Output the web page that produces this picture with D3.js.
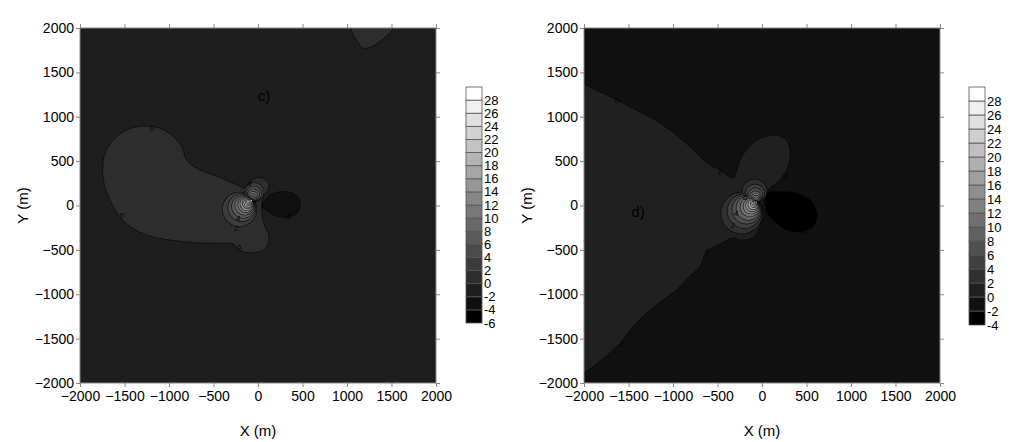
<!DOCTYPE html>
<meta charset="utf-8">
<html>
<head>
<script src="https://d3js.org/d3.v7.min.js"></script>
<style>
  body { margin: 0; background: #fff; }
  text { font-family: Arial, "Liberation Sans", sans-serif; fill: #000; }
</style>
</head>
<body>
<div id="chart"></div>
<script>
// tick values shared by both maps (metres)
const axisTicks = [-2000, -1500, -1000, -500, 0, 500, 1000, 1500, 2000];

// ---- panel c) ----
const cLevels = [-6, -4, -2, 0, 2, 4, 6, 8, 10, 12, 14, 16, 18, 20, 22, 24, 26, 28];
const cBackLevel = -2;
// 0..2 lobe west of the source
const cWestLobe = [[-127,194],[-315,268],[-502,344],[-689,419],[-801,513],[-857,663],[-952,775],
  [-1101,870],[-1289,896],[-1475,851],[-1626,738],[-1719,588],[-1745,437],[-1730,250],[-1663,62],
  [-1570,-107],[-1438,-239],[-1251,-332],[-989,-389],[-689,-419],[-427,-426],[-278,-434],[-239,-482],
  [-165,-521],[-53,-532],[60,-501],[116,-426],[116,-313],[79,-239],[53,-144],[42,-14],[53,99],
  [116,175],[116,250],[60,306],[-15,313],[-82,268],[-109,220]];
// 0..2 patch on the top edge
const cNorthPatch = [[1030,2150],[1042,2000],[1109,1857],[1183,1775],[1258,1783],[1408,1876],[1520,2000],[1540,2150]];
// -4..-2 lobe east of the source
const cEastLobe = [[79,62],[154,130],[266,155],[397,137],[472,43],[453,-70],[360,-126],[228,-126],[116,-70],[45,-6]];
// nested rings around the source (south-west lobe)
const cRingLevels = [2, 4, 6, 8, 10, 12, 14, 16, 18, 20, 22, 24, 26, 28];
const cRingX = [-207, -181, -163, -148, -134, -124, -113, -106, -98, -92, -87, -82, -78, -74];
const cRingY = [-43, -23, -10, 2, 12, 20, 28, 33, 39, 43, 48, 51, 54, 57];
const cRingR = [190, 154, 129, 108, 89, 75, 60, 50, 39, 31, 23, 17, 11, 6];
// nested rings, north lobe
const cUpLevels = [2, 4, 6, 8, 10, 12, 14, 16, 18, 20, 22];
const cUpX = [-42, -47, -52, -56, -59, -62, -64, -66, -67, -68, -69];
const cUpY = [150, 132, 116, 104, 94, 86, 79, 74, 69, 66, 63];
const cUpR = [105, 84, 66, 52, 40, 30, 22, 16, 11, 7, 4];
const cLabels = [[-1194,859,"0"],[-1531,-115,"0"],[-213,-482,"0"],[-98,242,"0"],[337,-126,"-2"],[-226,-150,"4"],[-245,-258,"2"]];

// ---- panel d) ----
const dLevels = [-4, -2, 0, 2, 4, 6, 8, 10, 12, 14, 16, 18, 20, 22, 24, 26, 28];
const dBackLevel = -2;
const dWestRegion = [[-2100,1358],[-1820,1279],[-1629,1189],[-1371,1053],[-1146,930],[-921,761],
  [-734,591],[-618,479],[-472,400],[-326,310],[-284,400],[-228,550],[-101,704],[53,783],[202,783],
  [296,704],[315,550],[278,400],[202,287],[90,194],[34,96],[0,-51],[-22,-242],[-112,-366],[-247,-389],
  [-326,-366],[-472,-434],[-621,-521],[-697,-690],[-809,-794],[-958,-952],[-1146,-1087],[-1337,-1253],
  [-1461,-1380],[-1596,-1549],[-1820,-1752],[-2100,-1899]];
const dEastLobe = [[67,141],[202,155],[390,137],[539,62],[615,-88],[573,-239],[427,-295],[278,-276],[146,-183],[53,-70]];
const dRingLevels = [2, 4, 6, 8, 10, 12, 14, 16, 18, 20, 22, 24, 26, 28];
const dRingX = [-227, -197, -174, -155, -136, -122, -110, -99, -88, -81, -75, -71, -66, -64];
const dRingY = [-85, -63, -46, -31, -17, -6, 3, 11, 19, 24, 29, 32, 35, 37];
const dRingR = [232, 190, 159, 132, 106, 86, 69, 54, 39, 29, 21, 15, 9, 5];
const dUpLevels = [2, 4, 6, 8, 10, 12, 14, 16, 18, 20, 22];
const dUpX = [-84, -79, -75, -72, -69, -67, -65, -64, -63, -62, -61];
const dUpY = [159, 132, 112, 96, 84, 73, 65, 58, 52, 48, 45];
const dUpR = [135, 105, 82, 64, 50, 38, 28, 20, 14, 9, 6];
const dLabels = [[-1626,1181,"0"],[-461,363,"0"],[255,324,"0"],[-621,-527,"0"],[-1565,-1572,"0"],
  [-293,-100,"4"],[-330,-225,"2"],[-191,88,"6"],[457,-299,"-2"]];

const W = 356, H = 355, plotTop = 28;

const svg = d3.select("#chart").append("svg")
  .attr("width", 1024).attr("height", 442);

function drawPanel(p) {
  const g = svg.append("g").attr("transform", `translate(${p.left},${plotTop})`);
  const x = d3.scaleLinear().domain([-2000, 2000]).range([0, W]);
  const y = d3.scaleLinear().domain([-2000, 2000]).range([H, 0]);
  const shade = d3.scaleLinear().domain([p.levels[0], p.levels[p.levels.length - 1]]).range([0, 255]);
  const fill = L => { const v = Math.round(shade(L)); return `rgb(${v},${v},${v})`; };

  svg.append("clipPath").attr("id", "clip-" + p.id)
    .append("rect").attr("width", W).attr("height", H);
  const plot = g.append("g").attr("clip-path", `url(#clip-${p.id})`);

  plot.append("rect").attr("width", W).attr("height", H).attr("fill", fill(p.back));

  const line = d3.line().x(d => x(d[0])).y(d => y(d[1]))
    .curve(d3.curveCatmullRomClosed.alpha(0.5));

  p.patches.forEach(pt => {
    plot.append("path").attr("d", line(pt.pts))
      .attr("fill", fill(pt.level))
      .attr("stroke", "#000").attr("stroke-opacity", 0.7).attr("stroke-width", 0.8);
  });

  // rings: per level, south-west + north lobes merged into one outline
  p.ringLevels.forEach((L, i) => {
    const shapes = [[p.ringX[i], p.ringY[i], p.ringR[i]]];
    const j = p.upLevels.indexOf(L);
    if (j >= 0) shapes.push([p.upX[j], p.upY[j], p.upR[j]]);
    const lev = plot.append("g");
    shapes.forEach(s => lev.append("ellipse")
      .attr("cx", x(s[0])).attr("cy", y(s[1]))
      .attr("rx", x(s[2]) - x(0)).attr("ry", y(0) - y(s[2]))
      .attr("fill", fill(L)).attr("stroke", "#000").attr("stroke-width", 1.4).attr("stroke-opacity", 0.75));
    shapes.forEach(s => lev.append("ellipse")
      .attr("cx", x(s[0])).attr("cy", y(s[1]))
      .attr("rx", x(s[2]) - x(0)).attr("ry", y(0) - y(s[2]))
      .attr("fill", fill(L)));
  });

  plot.selectAll(".clab").data(p.labels).join("text")
    .attr("x", d => x(d[0])).attr("y", d => y(d[1]))
    .attr("text-anchor", "middle").attr("dominant-baseline", "middle")
    .style("font-size", "8px").style("font-style", "italic")
    .text(d => d[2]);

  plot.append("text").attr("x", x(p.tag[0])).attr("y", y(p.tag[1]))
    .attr("text-anchor", "middle").attr("dominant-baseline", "middle")
    .style("font-size", "15px").text(p.tag[2]);

  // frame and ticks on all four sides
  g.append("rect").attr("width", W).attr("height", H)
    .attr("fill", "none").attr("stroke", "#888").attr("stroke-width", 1);

  const ax = [
    g.append("g").attr("transform", `translate(0,${H})`)
      .call(d3.axisBottom(x).tickValues(axisTicks).tickSize(4).tickPadding(4).tickFormat(d3.format("d"))),
    g.append("g")
      .call(d3.axisLeft(y).tickValues(axisTicks).tickSize(4).tickPadding(2).tickFormat(d3.format("d"))),
    g.append("g").call(d3.axisTop(x).tickValues(axisTicks).tickSize(4).tickFormat("")),
    g.append("g").attr("transform", `translate(${W},0)`)
      .call(d3.axisRight(y).tickValues(axisTicks).tickSize(4).tickFormat(""))
  ];
  ax.forEach(a => {
    a.select(".domain").remove();
    a.selectAll(".tick line").attr("stroke", "#888");
    a.selectAll(".tick text").style("font-size", "14px").attr("fill", "#000")
      .style("font-family", "Arial, 'Liberation Sans', sans-serif");
  });

  g.append("text").attr("x", W / 2).attr("y", H + 53)
    .attr("text-anchor", "middle").style("font-size", "15px").text("X (m)");
  g.append("text").attr("transform", `translate(-52,${H / 2}) rotate(-90)`)
    .attr("text-anchor", "middle").style("font-size", "15px").text("Y (m)");

  // colour bar
  const nb = p.levels.length;
  const cb = svg.append("g").attr("transform", `translate(${p.barLeft},0)`);
  const yb = d3.scaleLinear().domain([p.levels[0], p.levels[nb - 1] + 2]).range([p.barBottom, 87]);
  cb.selectAll("rect").data(p.levels).join("rect")
    .attr("x", 0).attr("width", 16)
    .attr("y", d => yb(d + 2)).attr("height", d => yb(d) - yb(d + 2))
    .attr("fill", d => fill(d)).attr("stroke", "#555").attr("stroke-width", 0.8);
  cb.selectAll("text").data(p.levels).join("text")
    .attr("x", 18).attr("y", d => yb(d)).attr("dy", "0.35em")
    .style("font-size", "13px").text(d => d);
}

drawPanel({
  id: "c", left: 80, levels: cLevels, back: cBackLevel,
  patches: [{level: 0, pts: cWestLobe}, {level: 0, pts: cNorthPatch}, {level: -4, pts: cEastLobe}],
  ringLevels: cRingLevels, ringX: cRingX, ringY: cRingY, ringR: cRingR,
  upLevels: cUpLevels, upX: cUpX, upY: cUpY, upR: cUpR,
  labels: cLabels, tag: [67, 1222, "c)"],
  barLeft: 466, barBottom: 323
});

drawPanel({
  id: "d", left: 584, levels: dLevels, back: dBackLevel,
  patches: [{level: 0, pts: dWestRegion}, {level: -4, pts: dEastLobe}],
  ringLevels: dRingLevels, ringX: dRingX, ringY: dRingY, ringR: dRingR,
  upLevels: dUpLevels, upX: dUpX, upY: dUpY, upR: dUpR,
  labels: dLabels, tag: [-1393, -85, "d)"],
  barLeft: 969, barBottom: 325
});
</script>
</body>
</html>
